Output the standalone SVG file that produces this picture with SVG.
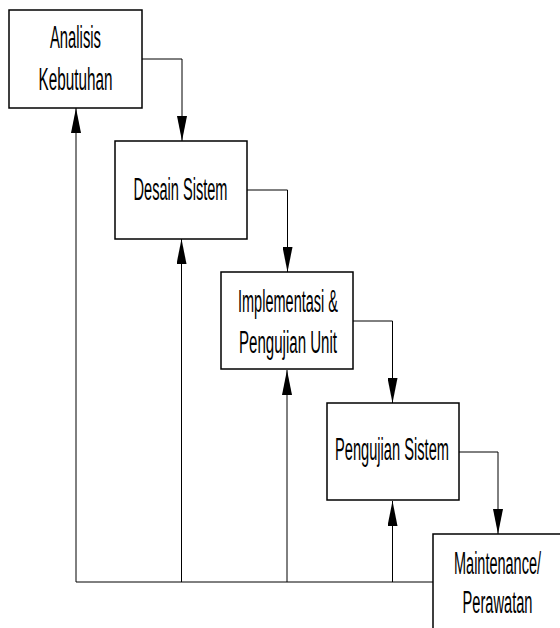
<svg xmlns="http://www.w3.org/2000/svg" width="560" height="628" viewBox="0 0 560 628">
<style>
.box{fill:#fff;stroke:#000;stroke-width:1.5}
.lbl{font-family:"Liberation Sans",Arial,sans-serif;font-size:31px;fill:#000;text-anchor:middle}
.con{fill:none;stroke:#000;stroke-width:1}
</style>
<defs>
<marker id="arr" viewBox="0 0 25 10" markerWidth="25" markerHeight="10" refX="25" refY="5" orient="auto" markerUnits="userSpaceOnUse">
<path d="M0,0 L25,5 L0,10 z" fill="#000"/>
</marker>
</defs>
<rect width="560" height="628" fill="#fff"/>
<g id="connectors">
<path class="con" d="M142,59 H182 V141" marker-end="url(#arr)"/>
<path class="con" d="M247,190 H287.5 V272" marker-end="url(#arr)"/>
<path class="con" d="M353,321 H392.5 V403" marker-end="url(#arr)"/>
<path class="con" d="M459,452 H498 V534" marker-end="url(#arr)"/>
<path class="con" d="M76,582 H433"/>
<path class="con" d="M76,582 V108" marker-end="url(#arr)"/>
<path class="con" d="M181.5,582 V239" marker-end="url(#arr)"/>
<path class="con" d="M287,582 V370" marker-end="url(#arr)"/>
<path class="con" d="M392.5,582 V501" marker-end="url(#arr)"/>
</g>
<g id="analisis">
<rect class="box" x="9" y="10" width="133" height="98"/>
<text class="lbl" x="75.5" y="48" textLength="51" lengthAdjust="spacingAndGlyphs">Analisis</text>
<text class="lbl" x="75.5" y="90" textLength="74" lengthAdjust="spacingAndGlyphs">Kebutuhan</text>
</g>
<g id="desain">
<rect class="box" x="115" y="141" width="132" height="98"/>
<text class="lbl" x="180.5" y="199.5" textLength="94" lengthAdjust="spacingAndGlyphs">Desain Sistem</text>
</g>
<g id="implementasi">
<rect class="box" x="221" y="272" width="132" height="97"/>
<text class="lbl" x="288" y="311.5" textLength="100" lengthAdjust="spacingAndGlyphs">Implementasi &amp;</text>
<text class="lbl" x="288" y="352.5" textLength="98" lengthAdjust="spacingAndGlyphs">Pengujian Unit</text>
</g>
<g id="pengujian">
<rect class="box" x="327" y="403" width="132" height="97"/>
<text class="lbl" x="392" y="460" textLength="114" lengthAdjust="spacingAndGlyphs">Pengujian Sistem</text>
</g>
<g id="maintenance">
<rect class="box" x="433" y="534" width="140" height="100"/>
<text class="lbl" x="497.5" y="573.5" textLength="87" lengthAdjust="spacingAndGlyphs">Maintenance/</text>
<text class="lbl" x="497.5" y="612.5" textLength="70" lengthAdjust="spacingAndGlyphs">Perawatan</text>
</g>
</svg>
